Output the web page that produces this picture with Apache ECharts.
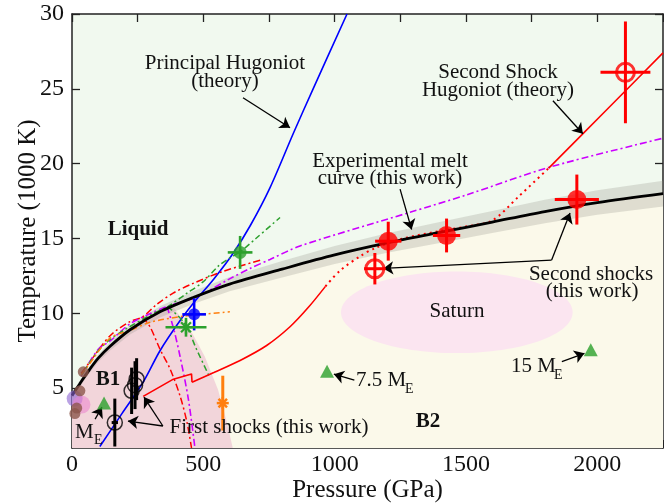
<!DOCTYPE html>
<html>
<head>
<meta charset="utf-8">
<script src="https://cdn.jsdelivr.net/npm/echarts@6/dist/echarts.min.js"></script>
<style>
html, body { margin: 0; padding: 0; background: #fff; }
#chart { width: 664px; height: 504px; }
</style>
</head>
<body>
<div id="chart"></div>
<script>
// ---- data (pressure GPa, temperature 1000 K) ----
const meltCurve = [[0,4.5],[30,5.3],[61,6.1],[100,7.0],[145,7.8],[221,8.9],[335,10.1],[461,11.05],[600,11.95],[800,12.95],[1000,13.9],[1200,14.7],[1400,15.4],[1600,16.1],[1800,16.8],[2000,17.4],[2250,18.0]]
const meltBand = [0.15,0.2,0.22,0.25,0.28,0.32,0.38,0.42,0.48,0.55,0.6,0.65,0.7,0.74,0.78,0.82,0.86]
const b1Edge = [[0,1],[0,4.5],[30,5.3],[61,6.1],[100,7.0],[145,7.8],[221,8.9],[335,10.1],[385,10.45],[411,9.8],[460,8.6],[506,7.1],[556,4.9],[590,2.7],[612,1]]
const saturn = { center: [1465, 10.07], radius: [441, 2.73] }

const blueHugoniot = [[106,1.1],[190,3.3],[271,5.4],[335,7.5],[411,9.5],[468,10.8],[540,12.3],[613,14.0],[680,15.9],[754,18.4],[842,22.0],[918,25.0],[1047,30]]
const redShockStart = [[271,4.45],[386,5.6],[455,5.95],[457,5.4]]
const redShockRise = [[457,5.4],[540,6.05],[640,6.85],[741,7.85],[830,9.1],[900,10.4],[965,11.8]]
const redShockDotted = [[965,11.8],[1020,12.85],[1100,13.85],[1153,14.35],[1250,14.95],[1400,15.5],[1500,15.8],[1600,16.2],[1700,17.8],[1815,19.7]]
const redShockEnd = [[1815,19.7],[2030,23.5],[2250,27.4]]

const redMeltTheory = [[35,6.0],[57,6.5],[145,8.5],[221,9.45],[268,9.75],[323,10.6],[385,11.35],[461,12.0],[575,12.8],[727,13.6]]
const redB1Theory = [[268,9.75],[297,9.1],[335,7.6],[373,6.3],[411,4.5],[438,2.7],[455,1.0]]
const magentaMelt = [[35,5.8],[100,7.6],[145,8.15],[221,9.3],[300,10.0],[362,10.45],[475,11.1],[600,12.3],[678,13.0],[754,13.6],[868,14.5],[1287,16.75],[1500,17.9],[1815,19.75],[2250,21.7]]
const magentaB1 = [[362,10.45],[388,8.9],[411,7.15],[443,4.27],[468,1.0]]
const greenMelt = [[35,5.85],[100,7.5],[145,8.25],[200,8.9],[300,9.9],[365,10.45],[430,11.25],[499,12.1],[560,13.2],[601,13.7],[640,14.1],[700,15.0],[792,16.4]]
const greenB1 = [[365,10.45],[430,9.3],[474,7.6],[525,5.7]]
const orangeMelt = [[35,5.9],[57,6.4],[145,8.35],[221,8.85],[297,9.4],[423,9.8],[601,10.1]]

// [P, T, dP, dT]
const secondShocks = [[1204,14.82,50,1.3],[1426,15.2,52,1.13],[1922,17.6,84,1.67]]
const secondShocksOpen = [[1153,12.98,41,1.05],[2107,26.1,95,3.4]]
const firstShocks = [[163,2.7,12,1.6],[227,4.82,0,1.55],[240,5.2,0,1.6],[246,5.6,0,1.4]]
const bluePoint = [[465,9.93,45,1.07]]
const greenPoint = [[640,14.07,47,1.1]]
const greenStar = [[434,9.07,78,0.63]]
const orangeStar = [[574,4.0,0,1.83]]
const planets = [[122,4.0],[971,6.13],[1975,7.57]]
const brownDots = [[43,6.09],[30,4.82],[18,3.67],[11,3.3]]
const purpleBlob = [[10,4.3]]
const pinkBlob = [[36,3.9]]

const arrowLines = [
  [[651,24.4],[830,22.4]],
  [[1831,24.2],[1945,22.0]],
  [[1249,18.3],[1293,15.6]],
  [[1826,13.56],[1896,16.71]],
  [[1826,13.56],[1185,13.0]],
  [[1075,5.53],[997,5.93]],
  [[1865,6.77],[1951,7.33]],
  [[88,2.93],[114,3.73]],
  [[346,2.47],[213,2.8]],
  [[346,2.47],[274,4.4]]
]

const xMin = 0, xMax = 2250, yMin = 1, yMax = 30
const yTicks = [5, 10, 15, 20, 25, 30]

const SERIF = 'Liberation Serif'
const INK = '#111'

// ---- helpers ----
function polygon(pointsFn, fill, z) {
  return {
    type: 'custom', z: z, silent: true, clip: true,
    data: [[0, 1]],
    renderItem: function (params, api) {
      return { type: 'polygon', shape: { points: pointsFn().map(p => api.coord(p)) }, style: { fill: fill } }
    }
  }
}

function curve(data, color, width, dash, z) {
  return {
    type: 'line', data: data, z: z || 4, showSymbol: false, silent: true,
    smooth: 0.3,
    lineStyle: { color: color, width: width, type: dash || 'solid' }
  }
}

function errorBars(data, color, width, z) {
  return {
    type: 'custom', z: z || 6, silent: true, clip: true, data: data,
    renderItem: function (params, api) {
      const c = api.coord([api.value(0), api.value(1)])
      const s = api.size([api.value(2), api.value(3)])
      const kids = []
      if (api.value(2) > 0) kids.push({ type: 'line', shape: { x1: c[0] - s[0], y1: c[1], x2: c[0] + s[0], y2: c[1] }, style: { stroke: color, lineWidth: width } })
      if (api.value(3) > 0) kids.push({ type: 'line', shape: { x1: c[0], y1: c[1] - s[1], x2: c[0], y2: c[1] + s[1] }, style: { stroke: color, lineWidth: width } })
      return { type: 'group', children: kids }
    }
  }
}

function asterisk(data, color, r, width) {
  return {
    type: 'custom', z: 7, silent: true, data: data,
    renderItem: function (params, api) {
      const c = api.coord([api.value(0), api.value(1)])
      const kids = [0, 45, 90, 135].map(a => {
        const t = a * Math.PI / 180
        return { type: 'line', shape: { x1: c[0] - r * Math.cos(t), y1: c[1] - r * Math.sin(t), x2: c[0] + r * Math.cos(t), y2: c[1] + r * Math.sin(t) }, style: { stroke: color, lineWidth: width } }
      })
      return { type: 'group', children: kids }
    }
  }
}

function dots(data, symbol, size, style, z) {
  return { type: 'scatter', data: data, symbol: symbol, symbolSize: size, z: z || 7, silent: true, itemStyle: style }
}

function txt(s, x, y, size, opt) {
  opt = opt || {}
  return {
    type: 'text', x: x, y: y, z: 100, silent: true,
    style: {
      text: s, fill: INK,
      font: (opt.bold ? 'bold ' : '') + size + 'px "' + SERIF + '"',
      textAlign: opt.align || 'center', align: opt.align || 'center',
      textVerticalAlign: 'middle', verticalAlign: 'middle'
    }
  }
}

const solidRegion = () => [[xMin, yMin]].concat(meltCurve, [[xMax, yMin]])
const b1Region = () => b1Edge
const bandRegion = () => meltCurve.map((p, i) => [p[0], p[1] + meltBand[i]])
  .concat(meltCurve.map((p, i) => [p[0], p[1] - meltBand[i]]).reverse())

const axisLine = { onZero: false, lineStyle: { color: '#222', width: 1.5 } }
const tick = { inside: true, length: 8, lineStyle: { color: '#222', width: 1.3 } }

const chart = echarts.init(document.getElementById('chart'))

chart.setOption({
  animation: false,
  grid: { left: 72, right: 1, top: 14, bottom: 56, show: true, backgroundColor: '#f1f9ef', borderWidth: 0, outerBoundsMode: 'none', containLabel: false },
  xAxis: [{
    type: 'value', min: xMin, max: xMax, interval: 250,
    name: 'Pressure (GPa)', nameLocation: 'middle', nameGap: 30, nameMoveOverlap: false,
    nameTextStyle: { fontFamily: SERIF, fontSize: 25, color: INK },
    axisLine: axisLine, axisTick: tick,
    axisLabel: { fontFamily: SERIF, fontSize: 24, color: INK, margin: 5, formatter: v => (v % 500 === 0 ? String(v) : '') },
    splitLine: { show: false }
  }, {
    type: 'value', position: 'top', min: xMin, max: xMax, interval: 250,
    axisLine: axisLine, axisTick: tick, axisLabel: { show: false }, splitLine: { show: false }
  }],
  yAxis: [{
    type: 'value', min: yMin, max: yMax,
    name: 'Temperature (1000 K)', nameLocation: 'middle', nameGap: 31, nameMoveOverlap: false,
    nameTextStyle: { fontFamily: SERIF, fontSize: 25, color: INK },
    axisLine: axisLine,
    axisTick: Object.assign({ customValues: yTicks }, tick),
    axisLabel: { customValues: yTicks, fontFamily: SERIF, fontSize: 24, color: INK, margin: 8 },
    splitLine: { show: false }
  }, {
    type: 'value', position: 'right', min: yMin, max: yMax,
    axisLine: axisLine,
    axisTick: Object.assign({ customValues: yTicks }, tick),
    axisLabel: { show: false }, splitLine: { show: false }
  }],
  series: [
    polygon(solidRegion, '#fbf9ea', 1),
    {
      type: 'custom', z: 2, silent: true, clip: true, data: [saturn.center],
      renderItem: function (params, api) {
        const c = api.coord([api.value(0), api.value(1)])
        const r = api.size(saturn.radius)
        return { type: 'ellipse', shape: { cx: c[0], cy: c[1], rx: r[0], ry: r[1] }, style: { fill: '#fbe5f0' } }
      }
    },
    polygon(b1Region, '#f2d5da', 2),
    polygon(bandRegion, 'rgba(150,150,140,0.28)', 3),

    curve(blueHugoniot, '#0000ff', 1.6),
    curve(redMeltTheory, '#ff0000', 1.5, [7, 3, 2, 3]),
    curve(redB1Theory, '#ff0000', 1.5, [7, 3, 2, 3]),
    curve(magentaMelt, '#cc00ff', 1.6, [7, 3, 2, 3]),
    curve(magentaB1, '#cc00ff', 1.6, [7, 3, 2, 3]),
    curve(greenMelt, '#2ca02c', 1.5, [6, 3, 2, 3]),
    curve(greenB1, '#2ca02c', 1.5, [6, 3, 2, 3]),
    curve(orangeMelt, '#ff7f0e', 1.5, [6, 3, 2, 3]),
    Object.assign(curve(redShockStart, '#ff0000', 1.6), { smooth: false }),
    curve(redShockRise, '#ff0000', 1.6),
    curve(redShockDotted, '#ff0000', 2, [2, 4]),
    curve(redShockEnd, '#ff0000', 1.6),
    curve(meltCurve, '#000000', 2.8, 'solid', 5),

    dots(purpleBlob, 'circle', 16, { color: 'rgba(140,100,210,0.75)' }, 6),
    dots(pinkBlob, 'circle', 18, { color: 'rgba(235,130,205,0.7)' }, 6),
    dots(brownDots, 'circle', 11, { color: '#8c564b' }, 7),

    errorBars(secondShocks, '#ff0000', 3),
    errorBars(secondShocksOpen, '#ff0000', 3),
    errorBars(firstShocks, '#000000', 3),
    errorBars(bluePoint, '#0000ff', 2.6),
    errorBars(greenPoint, '#2ca02c', 2.6),
    errorBars(greenStar, '#2ca02c', 2.6),
    errorBars(orangeStar, '#ff7f0e', 3),

    dots(secondShocks, 'circle', 19, { color: '#ff0000' }),
    dots(secondShocksOpen, 'circle', 18, { color: 'rgba(0,0,0,0)', borderColor: '#ff0000', borderWidth: 3 }),
    dots(firstShocks, 'circle', 15, { color: 'rgba(0,0,0,0)', borderColor: '#000000', borderWidth: 1.5 }),
    dots(bluePoint, 'circle', 12, { color: '#0000ff' }),
    dots(greenPoint, 'circle', 13, { color: '#2ca02c' }),
    asterisk(greenStar, '#2ca02c', 7, 2.2),
    asterisk(orangeStar, '#ff7f0e', 6, 2.5),
    dots(planets, 'triangle', [14, 13], { color: '#2ca02c' }),

    {
      type: 'line', data: [], z: 9, silent: true,
      markLine: {
        silent: true, symbol: ['none', 'arrow'], symbolSize: 10, precision: 4,
        label: { show: false },
        lineStyle: { color: '#000', width: 1.3, type: 'solid' },
        data: arrowLines.map(a => [{ coord: a[0] }, { coord: a[1] }])
      }
    }
  ],
  graphic: [
    txt('Principal Hugoniot', 225, 63, 21),
    txt('(theory)', 225, 81, 21),
    txt('Second Shock', 498, 72, 21),
    txt('Hugoniot (theory)', 498, 90, 21),
    txt('Experimental melt', 390, 161, 21),
    txt('curve (this work)', 390, 178, 21),
    txt('Second shocks', 591, 274, 21),
    txt('(this work)', 592, 291, 21),
    txt('Liquid', 138, 230, 21, { bold: true }),
    txt('Saturn', 457, 311, 21),
    txt('B1', 108, 380, 21, { bold: true }),
    txt('B2', 428, 422, 21, { bold: true }),
    txt('First shocks (this work)', 269, 427, 21),
    txt('7.5 M', 356, 380, 21, { align: 'left' }),
    txt('E', 405, 389, 14, { align: 'left' }),
    txt('15 M', 511, 366, 21, { align: 'left' }),
    txt('E', 554, 375, 14, { align: 'left' }),
    txt('M', 75, 432, 21, { align: 'left' }),
    txt('E', 94, 440, 14, { align: 'left' })
  ]
})
</script>
</body>
</html>
